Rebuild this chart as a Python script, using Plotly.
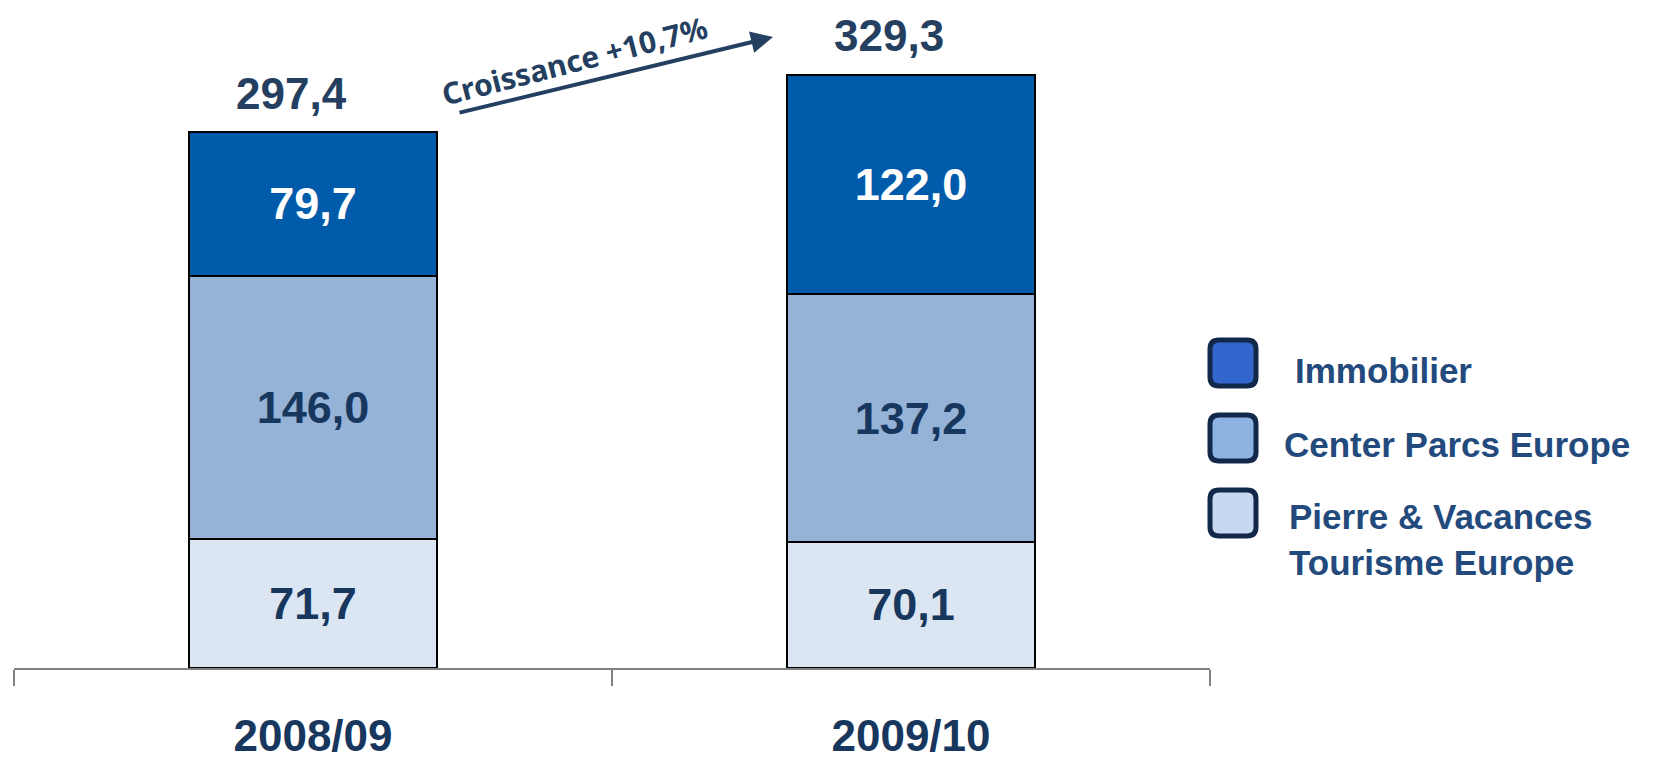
import plotly.graph_objects as go

categories = ["2008/09", "2009/10"]
pierre = [71.7, 70.1]
center_parcs = [146.0, 137.2]
immobilier = [79.7, 122.0]
series_names = ["Pierre & Vacances<br>Tourisme Europe", "Center Parcs Europe", "Immobilier"]
growth_label = "Croissance +10,7%"

W, H = 1654, 763
PLOT_H = 668
FONT = "Arial, Liberation Sans, sans-serif"


def fmt(v):
    return f"{v:.1f}".replace(".", ",")


def px_x(p):
    return p / W


def px_y(p):
    return 1 - p / PLOT_H


bar_colors = ["#DCE6F2", "#95B3D7", "#005BAA"]
text_colors = ["#17375E", "#17375E", "#FFFFFF"]
legend_colors = ["#C6D9F0", "#8DB3E2", "#3366CC"]

fig = go.Figure()
for vals, name, col, tcol in zip([pierre, center_parcs, immobilier], series_names, bar_colors, text_colors):
    fig.add_trace(go.Bar(
        x=categories, y=vals, name=name,
        marker=dict(color=col, line=dict(color="#000000", width=2)),
        width=0.415,
        text=[fmt(v) for v in vals],
        textposition="inside", insidetextanchor="middle", textangle=0,
        insidetextfont=dict(family=FONT, size=45, color=tcol, weight="bold"),
        showlegend=False,
    ))

totals = [a + b + c for a, b, c in zip(pierre, center_parcs, immobilier)]
annotations = []
for cat, t in zip(categories, totals):
    annotations.append(dict(
        x=cat, y=t, xref="x", yref="y", text=f"<b>{fmt(t)}</b>", showarrow=False,
        yanchor="middle", yshift=39, xshift=-22,
        font=dict(family=FONT, size=44, color="#243F60"),
    ))

# growth arrow
annotations.append(dict(
    x=px_x(773), y=px_y(37), xref="paper", yref="paper",
    ax=-315, ay=76, showarrow=True, arrowhead=2, arrowsize=1.1, arrowwidth=4,
    arrowcolor="#243F60", text="",
))
annotations.append(dict(
    x=px_x(574), y=px_y(60), xref="paper", yref="paper", text=f"<b>{growth_label}</b>",
    showarrow=False, textangle=-14.5, xanchor="center", yanchor="middle",
    font=dict(family="Noto Sans, Open Sans, sans-serif", size=30, color="#243F60"),
))

# custom legend
shapes = []


def rounded_rect(x0, y0, x1, y1, r):
    path = (f"M {px_x(x0 + r)},{px_y(y0)} L {px_x(x1 - r)},{px_y(y0)} "
            f"Q {px_x(x1)},{px_y(y0)} {px_x(x1)},{px_y(y0 + r)} "
            f"L {px_x(x1)},{px_y(y1 - r)} Q {px_x(x1)},{px_y(y1)} {px_x(x1 - r)},{px_y(y1)} "
            f"L {px_x(x0 + r)},{px_y(y1)} Q {px_x(x0)},{px_y(y1)} {px_x(x0)},{px_y(y1 - r)} "
            f"L {px_x(x0)},{px_y(y0 + r)} Q {px_x(x0)},{px_y(y0)} {px_x(x0 + r)},{px_y(y0)} Z")
    return path


legend_items = [
    (legend_colors[2], series_names[2], 340, 1293, 370),
    (legend_colors[1], series_names[1], 415, 1282, 444),
    (legend_colors[0], series_names[0], 490, 1287, 539),
]
for col, name, ytop, tx, ty in legend_items:
    shapes.append(dict(
        type="path", xref="paper", yref="paper",
        path=rounded_rect(1210, ytop, 1256, ytop + 46, 9),
        fillcolor=col, line=dict(color="#12284A", width=5),
    ))
    annotations.append(dict(
        x=px_x(tx), y=px_y(ty), xref="paper", yref="paper", text=f"<b>{name}</b>",
        showarrow=False, xanchor="left", yanchor="middle", align="left",
        font=dict(family=FONT, size=35, color="#234A7D"),
    ))

fig.update_layout(
    barmode="stack",
    width=W, height=H,
    margin=dict(l=0, r=0, t=0, b=H - PLOT_H, autoexpand=False),
    paper_bgcolor="white", plot_bgcolor="white",
    annotations=annotations, shapes=shapes,
    showlegend=False,
    xaxis=dict(
        domain=[14 / W, 1210 / W], range=[-0.5, 1.5], automargin=False,
        showline=True, linecolor="#808080", linewidth=1.5,
        ticks="outside", tickson="boundaries", ticklen=16, tickcolor="#808080", tickwidth=1.5,
        showgrid=False, ticklabelstandoff=28,
        tickfont=dict(family=FONT, size=44, color="#17375E", weight="bold"),
    ),
    yaxis=dict(range=[0, PLOT_H / 1.802], visible=False, showgrid=False, zeroline=False,
               automargin=False),
)

fig.write_html("out.html")
